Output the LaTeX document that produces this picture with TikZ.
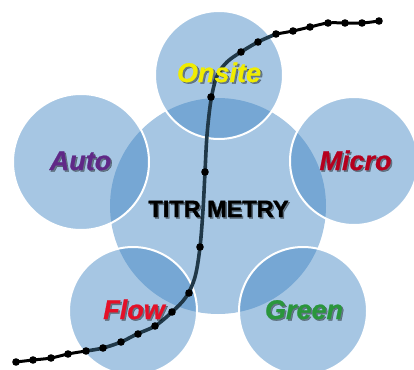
\documentclass[tikz,border=0pt]{standalone}
\usepackage{fontspec}
\setmainfont{Liberation Sans}
\newfontfamily\heavyfont[FakeBold=1.6]{Liberation Sans Bold}
\newfontfamily\lblfont[FakeBold=0.8]{Liberation Sans Bold Italic}
\definecolor{circfill}{RGB}{61,131,194}
\definecolor{onsitec}{RGB}{240,236,0}
\definecolor{autoc}{RGB}{96,40,135}
\definecolor{microc}{RGB}{182,0,30}
\definecolor{flowc}{RGB}{228,16,40}
\definecolor{greenc}{RGB}{42,150,60}
\definecolor{curvec}{RGB}{32,56,72}
\begin{document}
\begin{tikzpicture}[x=1pt,y=-1pt,
  bubble/.style={circle, fill=circfill, fill opacity=0.46, inner sep=0pt, outer sep=0pt},
  outerbub/.style={bubble, draw=white, draw opacity=1, line width=2pt},
  lbl/.style={anchor=base, inner sep=0pt, font=\fontsize{27}{30}\lblfont},
  shd/.style={text=black, text opacity=0.4},
  dot/.style={fill=black},
]
\useasboundingbox (0,0) rectangle (414,369);
% circles
\node[bubble, minimum size=216pt] (center) at (218,206) {};
\node[outerbub, minimum size=128pt] (onsitec) at (219,75) {};
\node[outerbub, minimum size=136pt] (autoc) at (81,162) {};
\node[outerbub, minimum size=128pt] (microc) at (354,161) {};
\node[outerbub, minimum size=128pt] (flowc) at (133,311) {};
\node[outerbub, minimum size=128pt] (greenc) at (303,311) {};
% curve
\draw[black, line width=3pt, line cap=round] plot[smooth, tension=0.6] coordinates {(16,362) (33,360) (51,358) (68,354) (86,351)};
\draw[black, line width=3pt, line cap=round] plot[smooth, tension=0.6] coordinates {(276,34) (293,31) (310,27) (328,23) (345,23) (362,23) (379,21)};
\draw[curvec, line width=3.6pt] plot[smooth, tension=0.55] coordinates {(86,351) (103,348) (121,342) (137,334) (155,326) (172,312) (186,297) (195,277) (200,247) (203,210) (205,172) (207,135) (211,100) (217,76) (227,62) (241,52) (258,42) (276,34)};
\foreach \p in {(16,362),(33,360),(51,358),(68,354),(86,351),(103,348),(121,342),(138,334),(155,326),(172,312),(189,293),(200,247),(205,172),(211,97),(241,52),(258,42),(276,34),(293,31),(310,27),(328,23),(345,23),(362,23),(379,21)}
  \fill[dot] \p circle (3.8pt);
% labels
\node[anchor=base, inner sep=0pt, font=\fontsize{23.5}{26}\heavyfont, shd] (titles) at (220,218.5) {TITR METRY};
\node[anchor=base, inner sep=0pt, font=\fontsize{23.5}{26}\heavyfont, text=black] (title) at (218.5,217) {TITR METRY};
\node[lbl, shd] (onsites) at (221,83.5) {Onsite};
\node[lbl, text=onsitec] (onsite) at (219,82) {Onsite};
\node[lbl, shd] (autos) at (82,171.5) {Auto};
\node[lbl, text=autoc] (auto) at (80.5,170) {Auto};
\node[lbl, shd] (micros) at (357,171.5) {Micro};
\node[lbl, text=microc] (micro) at (355.5,170) {Micro};
\node[lbl, shd] (flows) at (135.5,320.5) {Flow};
\node[lbl, text=flowc] (flow) at (134,319) {Flow};
\node[lbl, shd] (greens) at (305.5,320.5) {Green};
\node[lbl, text=greenc] (green) at (304,319) {Green};
\end{tikzpicture}
\end{document}
